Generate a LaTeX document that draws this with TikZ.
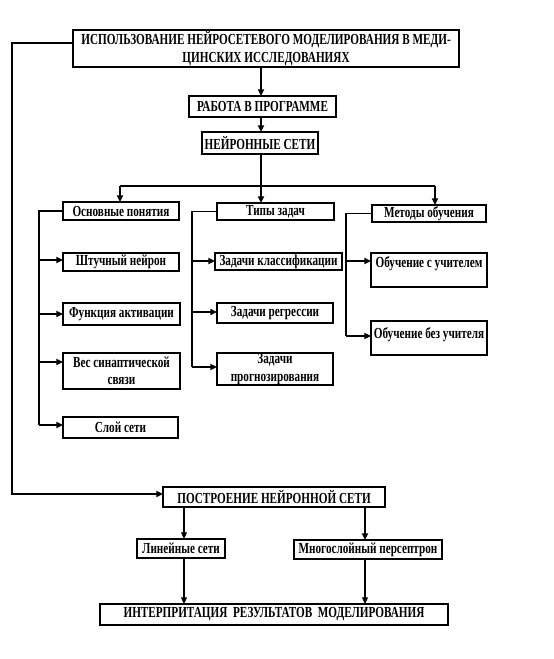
\documentclass[tikz,border=0pt]{standalone}
\usepackage{fontspec}
\setmainfont{Liberation Serif}[FakeStretch=0.73]
\usetikzlibrary{arrows.meta}
\newcommand\bx[7][]{\node[box,#1,minimum width={(#5-#3)*0.75pt},minimum height={(#6-#4)*0.75pt}] (#2) at ({(#3+#5)/2},{(#4+#6)/2}) {#7};}
\tikzset{
  box/.style={draw,line width=1.6pt,inner sep=0pt,outer sep=0pt,align=center,font=\bfseries\fontsize{11.5}{11}\selectfont},
  arr/.style={-{Triangle[length=5pt,width=4.5pt]}},
  main/.style={line width=1.5pt},
  side/.style={line width=1.2pt},
  thin/.style={line width=0.8pt},
  every label/.style={font=\bfseries\fontsize{11.5}{11}\selectfont,inner sep=0pt}
}
\begin{document}
\begin{tikzpicture}[x=0.75pt,y=-0.75pt]
\useasboundingbox (0,0) rectangle (553,659);
% boxes
\bx{top}{73}{30}{459}{67}{ИСПОЛЬЗОВАНИЕ НЕЙРОСЕТЕВОГО МОДЕЛИРОВАНИЯ В МЕДИ-\\[3pt]ЦИНСКИХ ИССЛЕДОВАНИЯХ}
\bx{rab}{189}{96}{336}{117}{РАБОТА В ПРОГРАММЕ}
\bx{ns}{202}{132}{318}{154}{НЕЙРОННЫЕ СЕТИ}
\bx{osn}{63}{202}{179}{220}{Основные понятия}
\bx{sht}{63}{253}{179}{271}{Штучный нейрон}
\bx{fun}{63}{303}{180}{325}{Функция активации}
\bx{ves}{63}{353}{180}{389}{Вес синаптической\\[2pt]связи}
\bx{sloy}{63}{417}{178}{438}{Слой сети}
\bx{tip}{217}{203}{334}{220}{Типы задач}
\bx{kla}{215}{253}{342}{270}{Задачи классификации}
\bx{reg}{217}{303}{333}{323}{Задачи регрессии}
\bx{pro}{217}{353}{333}{385}{Задачи\\[2pt]прогнозирования}
\bx{met}{372}{205}{486}{222}{Методы обучения}
\bx[label={[anchor=north,yshift=-2.5pt]north:Обучение с учителем}]{suc}{371}{253}{487}{287}{}
\bx[label={[anchor=north,yshift=-5pt]north:Обучение без учителя}]{bez}{371}{321}{487}{355}{}
\bx{post}{163}{487}{385}{507}{ПОСТРОЕНИЕ НЕЙРОННОЙ СЕТИ}
\bx{lin}{137}{539}{225}{558}{Линейные сети}
\bx{mno}{294}{540}{442}{559}{Многослойный персептрон}
\bx{int}{100}{604}{448}{625}{ИНТЕРПРИТАЦИЯ\ \ РЕЗУЛЬТАТОВ\ \ МОДЕЛИРОВАНИЯ}
% coordinates
\coordinate (jx) at (261,186);
\coordinate (bl) at (120,186);
\coordinate (br) at (435,186);
% main chain
\draw[main,arr] (jx |- top.south) -- (jx |- rab.north);
\draw[main,arr] (jx |- rab.south) -- (jx |- ns.north);
\draw[main,arr] (jx |- ns.south) -- (jx |- tip.north);
\draw[main] (bl) -- (br);
\draw[main,arr] (bl) -- (bl |- osn.north);
\draw[main,arr] (br) -- (br |- met.north);
% feedback
\draw[main,arr] (top.west |- 0,43) -- (12,43) |- (post.west |- 0,494);
% left bus
\coordinate (b1) at (39,425);
\draw[side] (osn.west) -| (b1);
\draw[side,arr] (b1 |- 0,260) -- (sht.west |- 0,260);
\draw[side,arr] (b1 |- 0,314) -- (fun.west |- 0,314);
\draw[side,arr] (b1 |- 0,362) -- (ves.west |- 0,362);
\draw[side,arr] (b1) -- (sloy.west |- b1);
% middle bus
\coordinate (b2) at (192,367);
\draw[side] (tip.west) -| (b2);
\draw[side,arr] (b2 |- 0,261) -- (kla.west |- 0,261);
\draw[side,arr] (b2 |- 0,312) -- (reg.west |- 0,312);
\draw[side,arr] (b2) -- (pro.west |- b2);
% right bus
\coordinate (b3) at (346,336);
\draw[side] (met.west) -| (b3);
\draw[side,arr] (b3 |- 0,261) -- (suc.west |- 0,261);
\draw[side,arr] (b3) -- (bez.west |- b3);
% bottom
\coordinate (cl) at (184,0);
\coordinate (cr) at (365,0);
\draw[thin,arr] (cl |- post.south) -- (cl |- lin.north);
\draw[main,arr] (cr |- post.south) -- (cr |- mno.north);
\draw[thin,arr] (cl |- lin.south) -- (cl |- int.north);
\draw[thin,arr] (cr |- mno.south) -- (cr |- int.north);
\end{tikzpicture}
\end{document}
